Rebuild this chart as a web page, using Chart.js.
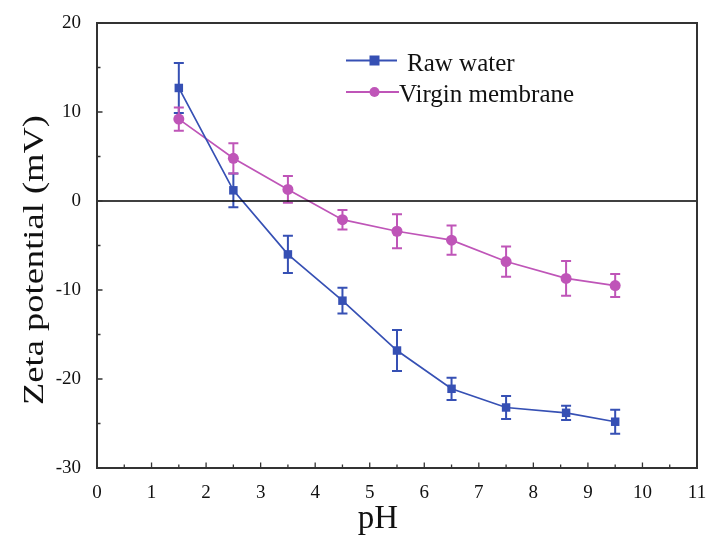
<!DOCTYPE html>
<html>
<head>
<meta charset="utf-8">
<script src="https://cdn.jsdelivr.net/npm/chart.js@4.4.1/dist/chart.umd.min.js"></script>
<style>
html,body{margin:0;padding:0;background:#fff;}
#wrap{width:708px;height:537px;position:relative;}
</style>
</head>
<body>
<div id="wrap"><canvas id="c" width="708" height="537"></canvas></div>
<script>
const phRaw = [1.5, 2.5, 3.5, 4.5, 5.5, 6.5, 7.5, 8.6, 9.5];
const zetaRaw = [12.7, 1.2, -6.0, -11.2, -16.8, -21.1, -23.2, -23.8, -24.8];
const errRaw = [2.8, 1.9, 2.1, 1.45, 2.3, 1.25, 1.3, 0.8, 1.35];
const phVirgin = [1.5, 2.5, 3.5, 4.5, 5.5, 6.5, 7.5, 8.6, 9.5];
const zetaVirgin = [9.2, 4.8, 1.3, -2.1, -3.4, -4.4, -6.8, -8.7, -9.5];
const errVirgin = [1.3, 1.7, 1.5, 1.1, 1.9, 1.65, 1.7, 1.95, 1.3];
const xTicks = [0,1,2,3,4,5,6,7,8,9,10,11];
const yTicks = [-30,-20,-10,0,10,20];
const seriesNames = ['Raw water', 'Virgin membrane'];
const xTitle = 'pH';
const yTitle = 'Zeta potential (mV)';

const BLUE = '#3650b4';
const PINK = '#bf55b8';
const FONT = '"Liberation Serif", "Times New Roman", serif';

const errorBars = {
  id: 'errorBars',
  beforeDatasetsDraw(chart) {
    const ctx = chart.ctx;
    const xs = chart.scales.x, ys = chart.scales.y;
    chart.data.datasets.forEach((ds) => {
      ctx.save();
      ctx.strokeStyle = ds.borderColor;
      ctx.lineWidth = 2;
      ds.data.forEach((p, i) => {
        const e = ds.errors[i];
        const px = xs.getPixelForValue(p.x);
        const top = ys.getPixelForValue(p.y + e);
        const bot = ys.getPixelForValue(p.y - e);
        ctx.beginPath();
        ctx.moveTo(px, top); ctx.lineTo(px, bot);
        ctx.moveTo(px - 5, top); ctx.lineTo(px + 5, top);
        ctx.moveTo(px - 5, bot); ctx.lineTo(px + 5, bot);
        ctx.stroke();
      });
      ctx.restore();
    });
  },
  afterDraw(chart) {
    const ctx = chart.ctx;
    const a = chart.chartArea;
    const xs = chart.scales.x, ys = chart.scales.y;
    ctx.save();
    // zero line
    ctx.strokeStyle = '#000';
    ctx.lineWidth = 1.3;
    const y0 = ys.getPixelForValue(0);
    ctx.beginPath(); ctx.moveTo(a.left, y0); ctx.lineTo(a.right, y0); ctx.stroke();
    // frame
    ctx.lineWidth = 2;
    ctx.strokeStyle = '#333';
    ctx.strokeRect(a.left, a.top, a.right - a.left, a.bottom - a.top);
    // inward ticks
    ctx.lineWidth = 1.3;
    ctx.beginPath();
    for (let v = 0; v <= 11; v += 0.5) {
      const px = xs.getPixelForValue(v);
      const len = (v % 1 === 0) ? 5.5 : 3.5;
      ctx.moveTo(px, a.bottom); ctx.lineTo(px, a.bottom - len);
    }
    for (let v = -30; v <= 20; v += 5) {
      const py = ys.getPixelForValue(v);
      const len = (v % 10 === 0) ? 5.5 : 3.5;
      ctx.moveTo(a.left, py); ctx.lineTo(a.left + len, py);
    }
    ctx.stroke();
    // axis titles
    ctx.fillStyle = '#111';
    ctx.textAlign = 'center';
    ctx.textBaseline = 'alphabetic';
    ctx.font = '33px ' + FONT;
    ctx.fillText(xTitle, 378, 528);
    ctx.save();
    ctx.translate(43, 260);
    ctx.rotate(-Math.PI / 2);
    ctx.font = '30px ' + FONT;
    const w = ctx.measureText(yTitle).width;
    ctx.scale(290 / w, 1);
    ctx.fillText(yTitle, 0, 0);
    ctx.restore();
    // legend
    const items = chart.data.datasets;
    const rows = [60.5, 92];
    const textX = [407, 399];
    items.forEach((ds, i) => {
      const y = rows[i];
      const lx0 = 346, lx1 = i === 0 ? 397 : 399;
      ctx.strokeStyle = ds.borderColor;
      ctx.lineWidth = 1.8;
      ctx.beginPath(); ctx.moveTo(lx0, y); ctx.lineTo(lx1, y); ctx.stroke();
      ctx.fillStyle = ds.borderColor;
      const mx = 374.5;
      if (ds.pointStyle === 'rect') {
        ctx.fillRect(mx - 5, y - 5, 10, 10);
      } else {
        ctx.beginPath(); ctx.arc(mx, y, 5, 0, Math.PI * 2); ctx.fill();
      }
      ctx.fillStyle = '#111';
      ctx.font = '25px ' + FONT;
      ctx.textBaseline = 'alphabetic';
      ctx.textAlign = 'left';
      ctx.fillText(ds.label, textX[i], y + 10);
    });
    ctx.restore();
  }
};

const toPts = (xs, ys) => xs.map((x, i) => ({ x: x, y: ys[i] }));

new Chart(document.getElementById('c'), {
  type: 'line',
  data: {
    datasets: [
      {
        label: seriesNames[0],
        data: toPts(phRaw, zetaRaw),
        errors: errRaw,
        borderColor: BLUE,
        backgroundColor: BLUE,
        borderWidth: 1.7,
        pointStyle: 'rect',
        pointRadius: 6,
        pointBorderWidth: 0,
        tension: 0,
        fill: false
      },
      {
        label: seriesNames[1],
        data: toPts(phVirgin, zetaVirgin),
        errors: errVirgin,
        borderColor: PINK,
        backgroundColor: PINK,
        borderWidth: 1.7,
        pointStyle: 'circle',
        pointRadius: 5.5,
        pointBorderWidth: 0,
        tension: 0,
        fill: false
      }
    ]
  },
  options: {
    responsive: false,
    animation: false,
    devicePixelRatio: 1,
    layout: { padding: { top: 23, right: 11, left: 0, bottom: 0 } },
    plugins: { legend: { display: false }, tooltip: { enabled: false } },
    scales: {
      x: {
        type: 'linear',
        min: 0, max: 11,
        afterBuildTicks: (s) => { s.ticks = xTicks.map(v => ({ value: v })); },
        afterFit: (s) => { s.height = 69; s.paddingLeft = 0; s.paddingRight = 0; },
        grid: { display: false },
        border: { display: false },
        ticks: { color: '#111', font: { family: FONT, size: 19 }, padding: 6, maxRotation: 0 },
        title: { display: false }
      },
      y: {
        type: 'linear',
        min: -30, max: 20,
        afterBuildTicks: (s) => { s.ticks = yTicks.map(v => ({ value: v })); },
        afterFit: (s) => { s.width = 97; s.paddingTop = 0; s.paddingBottom = 0; },
        grid: { display: false },
        border: { display: false },
        ticks: { color: '#111', font: { family: FONT, size: 19 }, padding: 8 },
        title: { display: false }
      }
    }
  },
  plugins: [errorBars]
});
</script>
</body>
</html>
